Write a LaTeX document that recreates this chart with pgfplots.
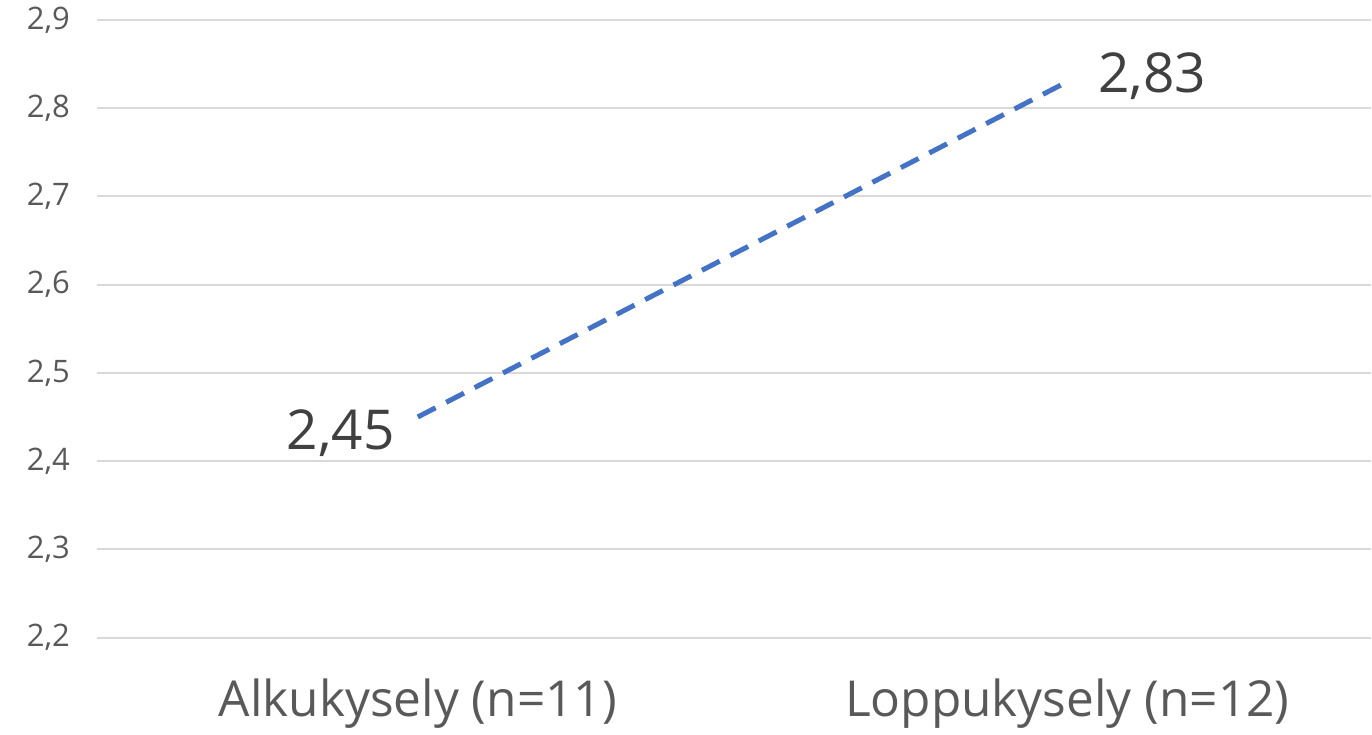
\documentclass[border=0pt]{standalone}
\usepackage{pgfplots}
\pgfplotsset{compat=1.18}
\usepackage{fontspec}
\setmainfont{Open Sans}
\definecolor{linieblue}{RGB}{68,114,196}
\definecolor{gridgray}{RGB}{217,217,217}
\definecolor{ticktxt}{RGB}{89,89,89}
\definecolor{labtxt}{RGB}{64,64,64}
\begin{document}
\begin{tikzpicture}
\begin{axis}[
    scale only axis,
    width=637.5pt, height=309pt,
    at={(0,0)}, anchor=south west,
    xmin=-0.494, xmax=1.4676,
    ymin=2.2, ymax=2.9,
    ytick={2.2,2.3,...,2.9},
    xtick={0,1},
    xticklabels={Alkukysely (n=11), Loppukysely (n=12)},
    axis line style={draw=none},
    major tick length=0pt,
    ymajorgrids,
    grid style={gridgray, line width=1pt},
    /pgf/number format/.cd, use comma, fixed, fixed zerofill, precision=1, assume math mode=true,
    /pgfplots/.cd,
    yticklabel style={font=\fontsize{15.5}{17}\selectfont, text=ticktxt, xshift=-10pt},
    xticklabel style={font=\fontsize{24.8}{28}\selectfont, text=ticktxt, yshift=-17pt},
    clip=false,
]
\addplot[linieblue, line width=2.5pt, dash pattern=on 10pt off 6pt] coordinates {(0,2.45) (1,2.83)};
\addplot[draw=none, nodes near coords, point meta=explicit symbolic,
    nodes near coords style={font=\fontsize{27.5}{31}\selectfont, text=labtxt, anchor=east, xshift=-8pt, yshift=-8pt}]
    coordinates {(0,2.45) [2,45]};
\addplot[draw=none, nodes near coords, point meta=explicit symbolic,
    nodes near coords style={font=\fontsize{27.5}{31}\selectfont, text=labtxt, anchor=west, xshift=12pt, yshift=3pt}]
    coordinates {(1,2.83) [2,83]};
\end{axis}
\path[use as bounding box] (-48.5pt,-44pt) rectangle (637.5pt,319pt);
\end{tikzpicture}
\end{document}
